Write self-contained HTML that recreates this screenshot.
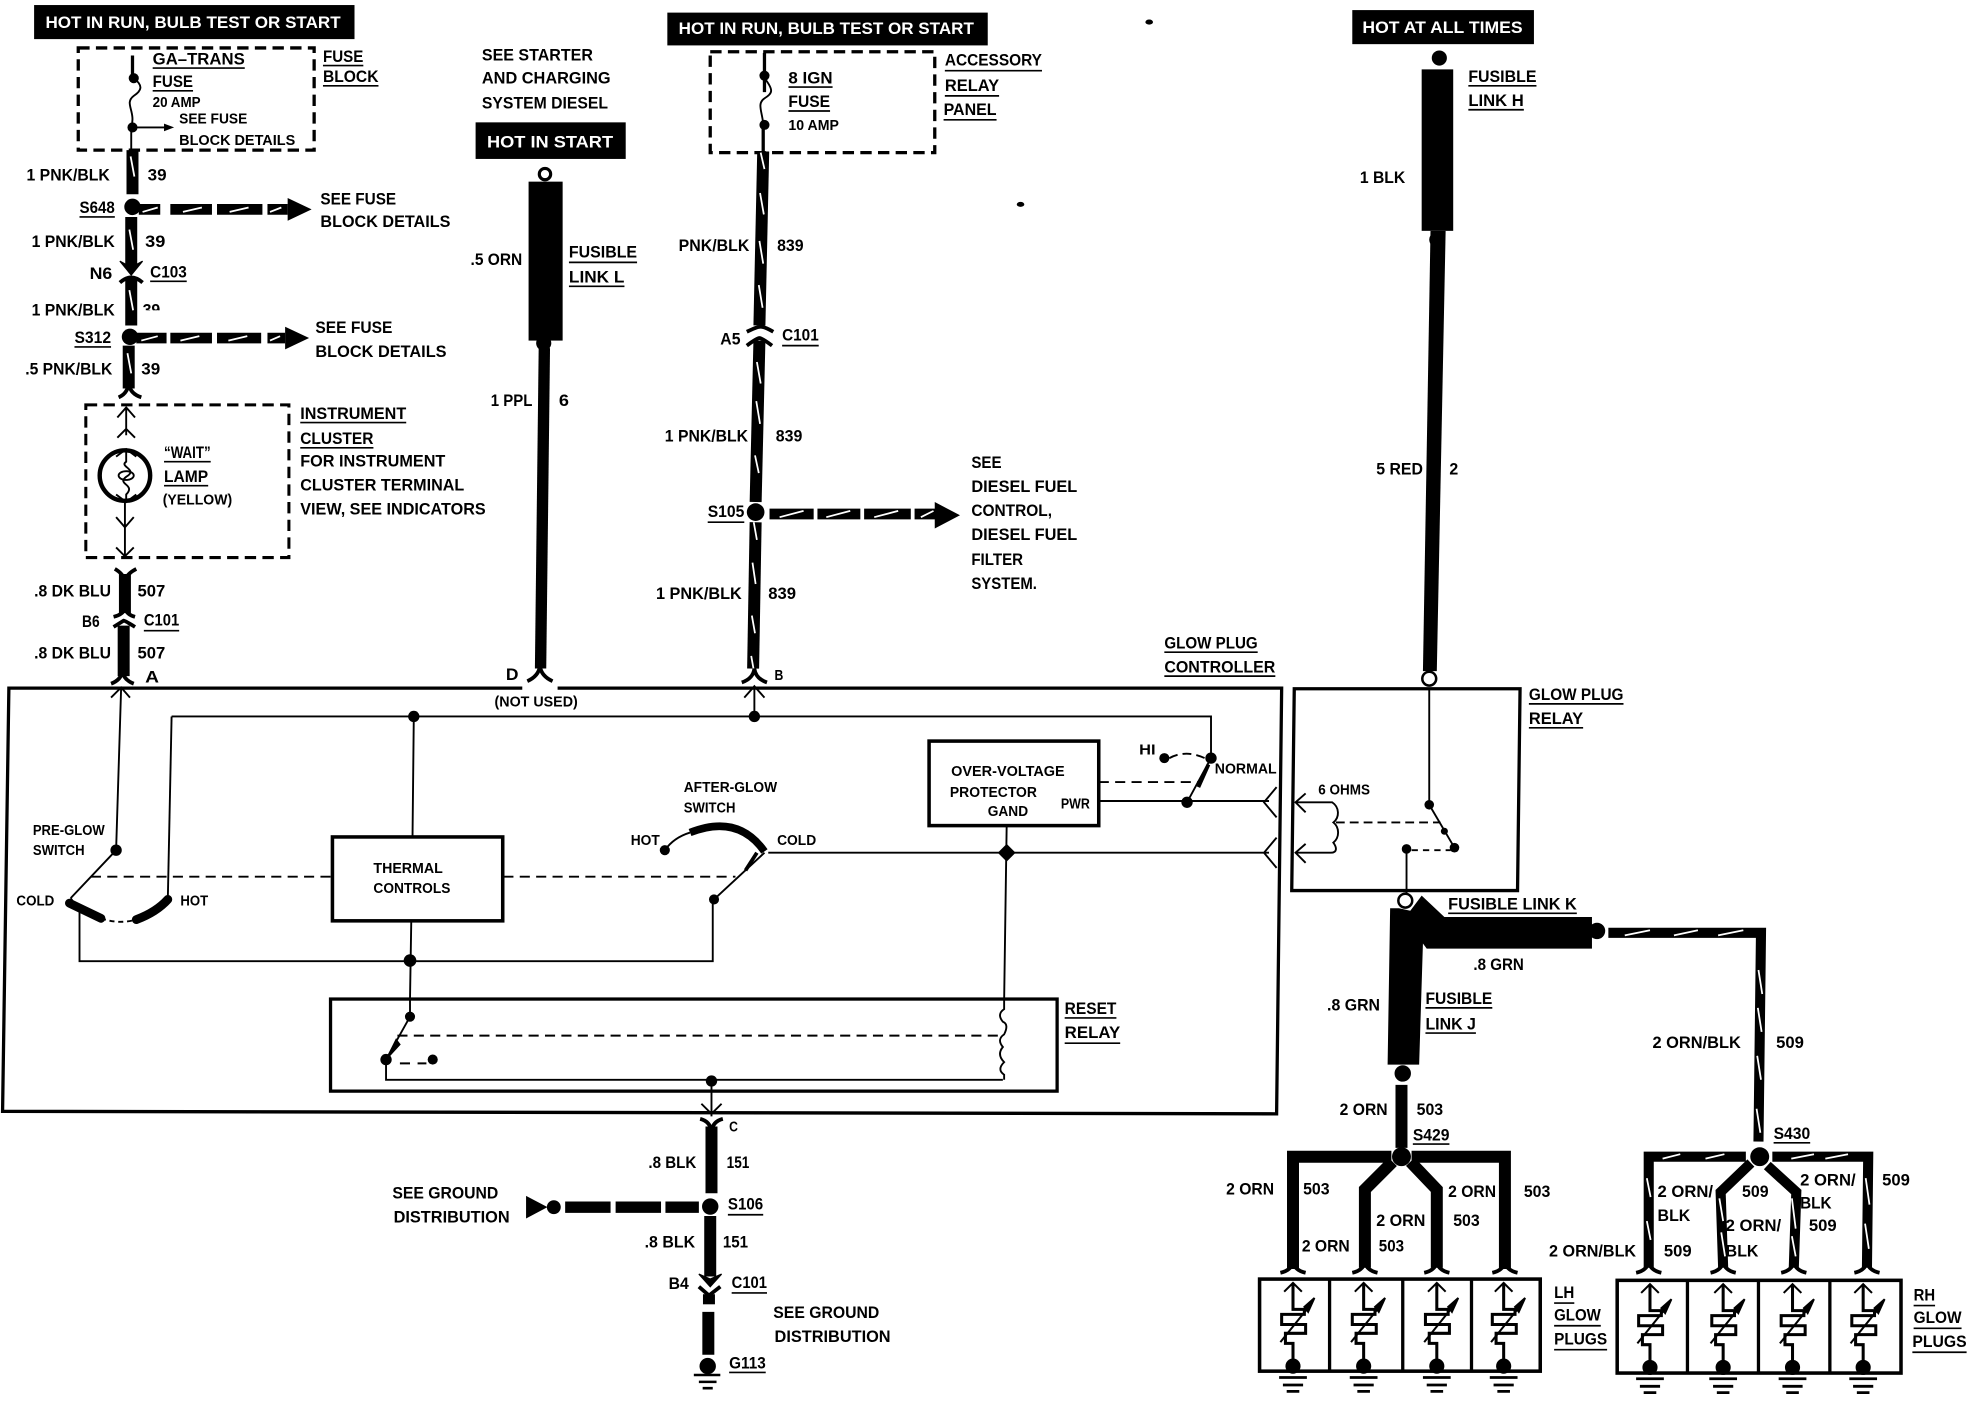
<!DOCTYPE html>
<html><head><meta charset="utf-8"><title>Glow Plug Wiring Diagram</title>
<style>
html,body{margin:0;padding:0;background:#fff}
svg{display:block}
text{font-family:"Liberation Sans",sans-serif;font-weight:bold;font-size:13.5px;fill:#000}
.s{font-size:11.5px}
.w{fill:#fff}
.u line{stroke:#000;stroke-width:1.3}
.th{fill:none;stroke:#000;stroke-width:1.5}
.m{fill:none;stroke:#000;stroke-width:2.6}
.d{fill:none;stroke:#000;stroke-width:1.5;stroke-dasharray:8 5}
.b{fill:none;stroke:#000;stroke-width:9.5}
.b7{fill:none;stroke:#000;stroke-width:8}
.sl{fill:none;stroke:#fff;stroke-width:1.4}
.f{fill:none;stroke:#000;stroke-width:3}
</style></head><body>
<svg xmlns="http://www.w3.org/2000/svg" xmlns:xlink="http://www.w3.org/1999/xlink" width="1978" height="1408" viewBox="0 0 1568 1116.2">
<defs>
<g id="plug">
<path d="M-7,10 L0,3 L7,10" fill="none" stroke="#000" stroke-width="1.6"/>
<path d="M0,3 V24 H9 V28 H-9 V36 H10 V43 H-6 V51 H0 V68" fill="none" stroke="#000" stroke-width="2.4"/>
<path d="M-10,50 L15,19" fill="none" stroke="#000" stroke-width="1.6"/>
<path d="M17,15 L9,22 L12,26 Z" fill="#000" stroke="#000" stroke-width="1.5"/>
<circle cx="0" cy="69" r="6"/>
<path d="M-11,78 H11 M-8,84 H8 M-5,89 H5" stroke="#000" stroke-width="2.2"/>
</g>
</defs>
<rect width="1568" height="1116.2" fill="#fff"/>

<!-- black header boxes -->
<rect x="27" y="4" width="254" height="27"/>
<rect x="529" y="10" width="254" height="26"/>
<rect x="377" y="97" width="119" height="29"/>
<rect x="1072" y="8" width="144" height="27"/>
<text class="w" x="36" y="22" textLength="234" lengthAdjust="spacingAndGlyphs">HOT IN RUN, BULB TEST OR START</text>
<text class="w" x="538" y="27" textLength="234" lengthAdjust="spacingAndGlyphs">HOT IN RUN, BULB TEST OR START</text>
<text class="w" x="386" y="117" textLength="100" lengthAdjust="spacingAndGlyphs">HOT IN START</text>
<text class="w" x="1080" y="26" textLength="127" lengthAdjust="spacingAndGlyphs">HOT AT ALL TIMES</text>

<!-- column 1 -->
<rect x="62" y="38" width="187" height="81" fill="none" stroke="#000" stroke-width="2.6" stroke-dasharray="9 5"/>
<path class="m" d="M105,44 V62"/>
<circle cx="106" cy="62" r="4"/><circle cx="105" cy="101" r="4"/>
<path class="th" d="M106,62 C114,68 112,72 106,76 C98,82 108,88 104,101 V119"/>
<path class="th" d="M105,101 H134"/><path d="M138,101 L130,98 V104 Z"/>
<path class="b" d="M105,119 V154"/><path class="sl" d="M103.500,124 L106.500,140"/>
<circle cx="105" cy="164" r="6.500"/>
<path stroke="#000" stroke-width="8.500" d="M110,166 H127 M135,166 H168 M172,166 H208 M212,166 H228"/>
<path class="sl" d="M113,168 L125,164.500 M145,168 L160,164.500 M182,168 L197,164.500 M214,168 L223,164.500"/>
<path d="M228,157 L247,166 L228,175 Z"/>
<path class="b" d="M104,172 V212"/><path class="sl" d="M102.500,182 L105.500,198"/>
<path d="M95,207 L104,212 L113,207 L104,218 Z" stroke="#000" stroke-width="1"/>
<path class="f" d="M95,224 Q104,216 113,224"/>
<path class="b" d="M104,221 V258"/><path class="sl" d="M102.500,230 L105.500,246"/>
<circle cx="103" cy="267" r="6.500"/>
<path stroke="#000" stroke-width="8.500" d="M108,268 H132 M135,268 H168 M172,268 H207 M212,268 H226"/>
<path class="sl" d="M112,270 L125,266.500 M143,270 L158,266.500 M181,270 L196,266.500 M214,270 L222,266.500"/>
<path d="M226,259 L245,268 L226,277 Z"/>
<path class="b" d="M102,274 V308"/><path class="sl" d="M101,280 L104,296"/>
<path class="f" d="M94,315 Q101,312 102,304 Q103,312 112,315"/>
<rect x="68" y="321" width="161" height="121" fill="none" stroke="#000" stroke-width="2.4" stroke-dasharray="9 5"/>
<path class="th" d="M93,331 L100,323 L107,331 M100,323 V340 M93,347 L100,340 L107,347 M100,340 V345"/>
<circle cx="99" cy="377" r="20" fill="#fff" stroke="#000" stroke-width="3.500"/>
<path class="th" d="M92,362 L100,356 L108,362 M100,356 V366 C94,370 110,372 100,378 C92,384 108,384 100,392 V396 M92,392 L100,398 L108,392"/>
<ellipse cx="100" cy="377" rx="6" ry="3.500" fill="none" stroke="#000" stroke-width="1.500"/>
<path class="th" d="M92,410 L99,418 L106,410 M99,398 V440 M92,434 L99,441 L106,434"/>
<path class="f" d="M91,451 Q98,455 99,461 Q100,455 108,451"/>
<path class="b" d="M99,455 V486"/>
<path class="f" d="M90,489 Q98,487 99,482 Q100,487 107,489"/>
<path class="f" d="M90,497 Q98,492 98,492 Q99,492 107,497"/>
<path class="b" d="M98,496 V536"/>
<path class="f" d="M88,542 Q96,539 97,532 Q98,539 106,542"/>

<!-- column 2 -->
<rect x="419" y="144" width="27" height="126"/>
<circle cx="432" cy="138" r="4.500" fill="#fff" stroke="#000" stroke-width="2.500"/>
<circle cx="431" cy="272" r="6"/>
<path d="M427,276 H436 L433,530 H424 Z"/>
<path class="f" d="M418,540 Q427,536 428,528 Q429,536 438,540"/>

<!-- column 3 -->
<rect x="563" y="41" width="178" height="80" fill="none" stroke="#000" stroke-width="2.600" stroke-dasharray="9 5"/>
<path class="m" d="M606,42 V73 M605,100 V120"/>
<circle cx="606" cy="60" r="4"/><circle cx="606" cy="99" r="4"/>
<path class="th" d="M606,62 C614,72 612,74 606,78 C600,82 604,88 605,98"/>
<path class="b" d="M605,120 L602,258"/>
<path class="sl" d="M603,121 L606,134 M602.500,153 L605.500,170 M602,191 L605,209 M601.500,226 L604.500,244"/>
<path class="f" d="M592,263 Q600,259 603,259 Q606,259 613,263"/>
<path class="f" d="M592,274 Q600,268 602,268 Q604,268 612,274"/>
<path class="b" d="M602,270 L599,398"/>
<path class="sl" d="M600,287 L603,304 M599.500,318 L602.500,336 M598.500,361 L601.500,375"/>
<circle cx="599" cy="406" r="7"/>
<path stroke="#000" stroke-width="8.500" d="M610,407.500 H645 M648,407.500 H682 M685,407.500 H722 M725,407.500 H743"/>
<path class="sl" d="M618,410 L637,405 M655,410 L674,405 M693,410 L712,405 M730,410 L740,405"/>
<path d="M741,398 L761,408.500 L741,419 Z"/>
<path class="b" d="M599,414 L597,530"/>
<path class="sl" d="M597.500,414 L600,428 M596.500,446 L599,463 M596,488 L598.500,502 M595.500,520 L598,534"/>
<path class="f" d="M588,541 Q597,538 598,530 Q599,538 608,541"/>

<!-- column 4 -->
<circle cx="1141" cy="46" r="6"/>
<rect x="1127" y="55" width="25" height="128"/>
<path d="M1134,183 H1146 L1139,532 H1128 Z"/><circle cx="1139" cy="190" r="6"/>
<circle cx="1133" cy="538" r="5.500" fill="#fff" stroke="#000" stroke-width="2"/>

<!-- controller -->
<path d="M414,545.500 H7 L2,881 L1012,883 L1016,545.500 H442" fill="none" stroke="#000" stroke-width="2.600"/>
<path class="th" d="M88,553 L96,545 L103,553 M96,545 L92,674"/>
<path class="th" d="M590,553 L598,544 L606,553 M598,544 V567"/>
<path class="th" d="M136,568 H960 V601"/>
<path class="th" d="M136,568 L133,713"/>
<circle cx="328" cy="568" r="4.500"/><circle cx="598" cy="568" r="4.500"/>
<path class="th" d="M328,568 L327,663 M326,730 L325,792 V806"/>
<circle cx="92" cy="674" r="4.500"/>
<path class="th" d="M92,674 L56,712 M56,712 L63,722 V762 H565 V713"/>
<path d="M55,716 L80,728" stroke="#000" stroke-width="7" stroke-linecap="round"/>
<path d="M108,729 Q124,723 133,713" fill="none" stroke="#000" stroke-width="7" stroke-linecap="round"/>
<path class="th" stroke-dasharray="4 3" d="M80,728 Q94,733 108,729"/>
<path class="d" d="M72,695 H263 M399,695 H583"/>
<rect x="263.500" y="663.500" width="135" height="66.500" fill="#fff" stroke="#000" stroke-width="2.800"/>
<circle cx="325" cy="761.500" r="5"/>
<rect x="262" y="792" width="576" height="73" fill="none" stroke="#000" stroke-width="2.600"/>
<circle cx="325" cy="806" r="4"/><path class="th" d="M325,806 L306,840 V856 H795"/>
<path d="M314,824 L306,840 L317,828 Z" stroke="#000"/>
<circle cx="306" cy="840" r="4.500"/><circle cx="343" cy="840" r="4"/>
<path class="th" stroke-dasharray="8 6" d="M317,843 H338"/>
<path class="d" d="M315,821 H793"/>
<circle cx="564" cy="857" r="4.500"/>
<path class="th" d="M564,857 V885 M556,875 L564,883 L572,875"/>
<path class="th" d="M798,655 L796,793 V800 Q790,804 795,810 Q800,812 796,820 Q790,824 795,830 Q790,836 796,842 Q790,848 796,852 V856"/>
<rect x="736.500" y="587.500" width="134.500" height="67" fill="#fff" stroke="#000" stroke-width="2.800"/>
<path class="th" d="M609,676 H1006 M1012,664 L1002,676 L1012,688 M871,635 H1006 M1012,624 L1002,636 L1012,648"/>
<path d="M798,670 L804,676 L798,682 L792,676 Z" stroke="#000" stroke-width="1.500"/>
<path class="th" d="M527,674 Q534,664 547,660"/><circle cx="527" cy="674" r="4"/>
<path d="M547,660 Q585,645 606,675" fill="none" stroke="#000" stroke-width="6"/>
<path class="th" d="M606,676 L566,713"/><path d="M600,676 L591,690" stroke="#000" stroke-width="3"/>
<circle cx="566" cy="713" r="4"/>
<circle cx="960" cy="601" r="4.500"/><circle cx="923" cy="601" r="4"/>
<circle cx="941" cy="636" r="4.500"/>
<path class="th" d="M960,601 L941,636"/><path d="M958,606 L950,624" stroke="#000" stroke-width="3"/>
<path class="th" stroke-dasharray="7 4" d="M927,601 Q940,594 955,601"/>
<path class="d" d="M871,620 H950"/>

<!-- glow plug relay -->
<path class="m" d="M1026,546 H1205 L1203,706 H1024 Z"/>
<path class="th" stroke-width="2" d="M1133,546 V638"/>
<circle cx="1133" cy="638" r="3.800"/><circle cx="1145" cy="659" r="2.800"/><circle cx="1153" cy="672" r="3.800"/><circle cx="1115" cy="673" r="3.800"/>
<path class="th" d="M1133,638 L1153,672"/>
<path class="th" stroke-dasharray="5 4" d="M1119,674 H1150"/>
<path class="th" d="M1115,673 V708"/>
<path class="th" d="M1035,629 L1027,636 L1035,644 M1027,636 H1056 C1062,640 1062,648 1057,652 C1062,656 1062,664 1057,668 C1060,672 1060,676 1055,676 H1027 M1035,669 L1027,676 L1035,684"/>
<path class="th" stroke-dasharray="7 4" d="M1059,652 H1142"/>
<circle cx="1114" cy="714" r="5.500" fill="#fff" stroke="#000" stroke-width="2"/>
<polygon points="1102,720 1109,720 1118,722 1127,710 1145,727 1262,727 1262,752 1131,752 1128,748 1125,844 1100,844"/>
<circle cx="1266" cy="738" r="6.500"/>
<path class="b7" d="M1275,739.500 H1396 L1394,905"/>
<path class="sl" d="M1288,741.500 L1308,737.500 M1327,741.500 L1346,737.500 M1362,741.500 L1382,737.500 M1394,769 L1397,788 M1393.500,799 L1396.500,818 M1393,837 L1396,856 M1392.500,879 L1395.500,898"/>
<circle cx="1112" cy="851" r="6.500"/>
<path class="b" d="M1111,860 V910"/>
<circle cx="1111" cy="917" r="7.500"/><circle cx="1395" cy="917" r="7.500"/>

<!-- LH branches -->
<path class="b" d="M1103,917 H1025 V1006 M1104,921 L1082,943 V1005 M1118,921 L1139,943 V1005 M1119,917 H1193 V1006"/>
<path class="f" d="M1015,1009 Q1024,1007 1025,1000 Q1026,1007 1035,1009 M1072,1009 Q1081,1007 1082,1000 Q1083,1007 1092,1009 M1129,1009 Q1138,1007 1139,1000 Q1140,1007 1149,1009 M1183,1009 Q1192,1007 1193,1000 Q1194,1007 1203,1009"/>
<rect x="998.500" y="1014" width="222.500" height="73" fill="none" stroke="#000" stroke-width="2.800"/>
<path class="m" d="M1054,1014 V1087 M1112,1014 V1087 M1166.500,1014 V1087"/>
<use xlink:href="#plug" x="1025" y="1014"/><use xlink:href="#plug" x="1081" y="1014"/><use xlink:href="#plug" x="1139" y="1014"/><use xlink:href="#plug" x="1192" y="1014"/>

<!-- RH branches -->
<path class="b7" d="M1384,917 H1307 V1005 M1388,922 L1364,945 L1366,1005 M1401,924 L1424,945 L1422,1005 M1405,917 H1481 L1480,1005"/>
<path class="sl" d="M1318,918.500 L1332,915 M1352,918.500 L1367,915 M1305.500,934 L1308.500,949 M1305.500,968 L1308.500,983 M1363,950 L1366,968 M1364.500,977 L1367.500,996 M1420.500,950 L1423.500,974 M1420.500,980 L1423.500,996 M1420,918.500 L1438,915 M1447,918.500 L1465,915 M1479,934 L1482,955 M1478.500,970 L1481.500,990"/>
<path class="f" d="M1297,1009 Q1306,1007 1307,1000 Q1308,1007 1317,1009 M1356,1009 Q1365,1007 1366,1000 Q1367,1007 1376,1009 M1412,1009 Q1421,1007 1422,1000 Q1423,1007 1432,1009 M1470,1009 Q1479,1007 1480,1000 Q1481,1007 1490,1009"/>
<rect x="1282" y="1015" width="225" height="73.500" fill="none" stroke="#000" stroke-width="2.800"/>
<path class="m" d="M1337.700,1015 V1088 M1394,1015 V1088 M1450.600,1015 V1088"/>
<use xlink:href="#plug" x="1308" y="1015"/><use xlink:href="#plug" x="1366" y="1015"/><use xlink:href="#plug" x="1421" y="1015"/><use xlink:href="#plug" x="1477" y="1015"/>

<!-- lower center -->
<path class="f" d="M555,887 Q563,889 564,897 Q565,889 573,887"/>
<path class="b" d="M564,893 V946 M563,964 V1012 M561.500,1040 V1074"/>
<circle cx="563" cy="956.500" r="6.500"/>
<path stroke="#000" stroke-width="9" d="M448,957 H484 M488,957 H524 M527.500,957 H554"/>
<circle cx="439" cy="957" r="5.500"/>
<path d="M417,948 L434,957 L417,966 Z"/>
<path d="M554,1010 L563,1014 L572,1010 L563,1020 Z" stroke="#000" stroke-width="1"/>
<path class="f" d="M554,1020 L562,1027 L571,1020"/>
<path class="b" d="M562,1026 V1034"/>
<circle cx="561" cy="1083" r="6.500"/>
<path d="M550,1090 H571 M554,1095.500 H568 M557,1100.500 H565" stroke="#000" stroke-width="2"/>

<!-- specks -->
<ellipse cx="911" cy="17.500" rx="3" ry="2"/><ellipse cx="809" cy="162" rx="3" ry="2"/>

<!-- text -->
<g>
<text x="121" y="51" textLength="73" lengthAdjust="spacingAndGlyphs">GA–TRANS</text>
<text x="121" y="69" textLength="32" lengthAdjust="spacingAndGlyphs">FUSE</text>
<text class="s" x="121" y="85" textLength="38" lengthAdjust="spacingAndGlyphs">20 AMP</text>
<text class="s" x="142" y="98" textLength="54" lengthAdjust="spacingAndGlyphs">SEE FUSE</text>
<text class="s" x="142" y="115" textLength="92" lengthAdjust="spacingAndGlyphs">BLOCK DETAILS</text>
<text x="256" y="49" textLength="32" lengthAdjust="spacingAndGlyphs">FUSE</text>
<text x="256" y="65" textLength="44" lengthAdjust="spacingAndGlyphs">BLOCK</text>
<text x="21" y="143" textLength="66" lengthAdjust="spacingAndGlyphs">1 PNK/BLK</text>
<text x="117" y="143" textLength="15" lengthAdjust="spacingAndGlyphs">39</text>
<text x="63" y="169" textLength="28" lengthAdjust="spacingAndGlyphs">S648</text>
<text x="25" y="196" textLength="66" lengthAdjust="spacingAndGlyphs">1 PNK/BLK</text>
<text x="115" y="196" textLength="16" lengthAdjust="spacingAndGlyphs">39</text>
<text x="71" y="221" textLength="18" lengthAdjust="spacingAndGlyphs">N6</text>
<text x="119" y="220" textLength="29" lengthAdjust="spacingAndGlyphs">C103</text>
<text x="25" y="250" textLength="66" lengthAdjust="spacingAndGlyphs">1 PNK/BLK</text>
<text x="113" y="250" textLength="14" lengthAdjust="spacingAndGlyphs">39</text>
<rect x="111" y="246" width="18" height="8" fill="#fff"/>
<text x="59" y="272" textLength="29" lengthAdjust="spacingAndGlyphs">S312</text>
<text x="20" y="297" textLength="69" lengthAdjust="spacingAndGlyphs">.5 PNK/BLK</text>
<text x="112" y="297" textLength="15" lengthAdjust="spacingAndGlyphs">39</text>
<text x="27" y="473" textLength="61" lengthAdjust="spacingAndGlyphs">.8 DK BLU</text>
<text x="109" y="473" textLength="22" lengthAdjust="spacingAndGlyphs">507</text>
<text x="65" y="497" textLength="14" lengthAdjust="spacingAndGlyphs">B6</text>
<text x="114" y="496" textLength="28" lengthAdjust="spacingAndGlyphs">C101</text>
<text x="27" y="522" textLength="61" lengthAdjust="spacingAndGlyphs">.8 DK BLU</text>
<text x="109" y="522" textLength="22" lengthAdjust="spacingAndGlyphs">507</text>
<text x="115" y="541" textLength="11" lengthAdjust="spacingAndGlyphs">A</text>
<text x="254" y="162" textLength="60" lengthAdjust="spacingAndGlyphs">SEE FUSE</text>
<text x="254" y="180" textLength="103" lengthAdjust="spacingAndGlyphs">BLOCK DETAILS</text>
<text x="250" y="264" textLength="61" lengthAdjust="spacingAndGlyphs">SEE FUSE</text>
<text x="250" y="283" textLength="104" lengthAdjust="spacingAndGlyphs">BLOCK DETAILS</text>
<text x="238" y="332" textLength="84" lengthAdjust="spacingAndGlyphs">INSTRUMENT</text>
<text x="238" y="352" textLength="58" lengthAdjust="spacingAndGlyphs">CLUSTER</text>
<text x="238" y="370" textLength="115" lengthAdjust="spacingAndGlyphs">FOR INSTRUMENT</text>
<text x="238" y="389" textLength="130" lengthAdjust="spacingAndGlyphs">CLUSTER TERMINAL</text>
<text x="238" y="408" textLength="147" lengthAdjust="spacingAndGlyphs">VIEW, SEE INDICATORS</text>
<text x="130" y="363" textLength="37" lengthAdjust="spacingAndGlyphs">“WAIT”</text>
<text x="130" y="382" textLength="35" lengthAdjust="spacingAndGlyphs">LAMP</text>
<text class="s" x="129" y="400" textLength="55" lengthAdjust="spacingAndGlyphs">(YELLOW)</text>
<text x="382" y="48" textLength="88" lengthAdjust="spacingAndGlyphs">SEE STARTER</text>
<text x="382" y="66" textLength="102" lengthAdjust="spacingAndGlyphs">AND CHARGING</text>
<text x="382" y="86" textLength="100" lengthAdjust="spacingAndGlyphs">SYSTEM DIESEL</text>
<text x="373" y="210" textLength="41" lengthAdjust="spacingAndGlyphs">.5 ORN</text>
<text x="451" y="204" textLength="54" lengthAdjust="spacingAndGlyphs">FUSIBLE</text>
<text x="451" y="224" textLength="44" lengthAdjust="spacingAndGlyphs">LINK L</text>
<text x="389" y="322" textLength="33" lengthAdjust="spacingAndGlyphs">1 PPL</text>
<text x="443" y="322" textLength="8" lengthAdjust="spacingAndGlyphs">6</text>
<text x="401" y="539" textLength="10" lengthAdjust="spacingAndGlyphs">D</text>
<text class="s" x="392" y="560" textLength="66" lengthAdjust="spacingAndGlyphs">(NOT USED)</text>
<text x="625" y="66" textLength="35" lengthAdjust="spacingAndGlyphs">8 IGN</text>
<text x="625" y="85" textLength="33" lengthAdjust="spacingAndGlyphs">FUSE</text>
<text class="s" x="625" y="103" textLength="40" lengthAdjust="spacingAndGlyphs">10 AMP</text>
<text x="749" y="52" textLength="77" lengthAdjust="spacingAndGlyphs">ACCESSORY</text>
<text x="749" y="72" textLength="43" lengthAdjust="spacingAndGlyphs">RELAY</text>
<text x="748" y="91" textLength="42" lengthAdjust="spacingAndGlyphs">PANEL</text>
<text x="538" y="199" textLength="56" lengthAdjust="spacingAndGlyphs">PNK/BLK</text>
<text x="616" y="199" textLength="21" lengthAdjust="spacingAndGlyphs">839</text>
<text x="571" y="273" textLength="16" lengthAdjust="spacingAndGlyphs">A5</text>
<text x="620" y="270" textLength="29" lengthAdjust="spacingAndGlyphs">C101</text>
<text x="527" y="350" textLength="66" lengthAdjust="spacingAndGlyphs">1 PNK/BLK</text>
<text x="615" y="350" textLength="21" lengthAdjust="spacingAndGlyphs">839</text>
<text x="561" y="410" textLength="29" lengthAdjust="spacingAndGlyphs">S105</text>
<text x="520" y="475" textLength="68" lengthAdjust="spacingAndGlyphs">1 PNK/BLK</text>
<text x="609" y="475" textLength="22" lengthAdjust="spacingAndGlyphs">839</text>
<text class="s" x="614" y="539" textLength="7" lengthAdjust="spacingAndGlyphs">B</text>
<text x="770" y="371" textLength="24" lengthAdjust="spacingAndGlyphs">SEE</text>
<text x="770" y="390" textLength="84" lengthAdjust="spacingAndGlyphs">DIESEL FUEL</text>
<text x="770" y="409" textLength="64" lengthAdjust="spacingAndGlyphs">CONTROL,</text>
<text x="770" y="428" textLength="84" lengthAdjust="spacingAndGlyphs">DIESEL FUEL</text>
<text x="770" y="448" textLength="41" lengthAdjust="spacingAndGlyphs">FILTER</text>
<text x="770" y="467" textLength="52" lengthAdjust="spacingAndGlyphs">SYSTEM.</text>
<text x="923" y="514" textLength="74" lengthAdjust="spacingAndGlyphs">GLOW PLUG</text>
<text x="923" y="533" textLength="88" lengthAdjust="spacingAndGlyphs">CONTROLLER</text>
<text x="1164" y="65" textLength="54" lengthAdjust="spacingAndGlyphs">FUSIBLE</text>
<text x="1164" y="84" textLength="44" lengthAdjust="spacingAndGlyphs">LINK H</text>
<text x="1078" y="145" textLength="36" lengthAdjust="spacingAndGlyphs">1 BLK</text>
<text x="1091" y="376" textLength="37" lengthAdjust="spacingAndGlyphs">5 RED</text>
<text x="1149" y="376" textLength="7" lengthAdjust="spacingAndGlyphs">2</text>
<text x="1212" y="555" textLength="75" lengthAdjust="spacingAndGlyphs">GLOW PLUG</text>
<text x="1212" y="574" textLength="43" lengthAdjust="spacingAndGlyphs">RELAY</text>
<text x="1148" y="721" textLength="102" lengthAdjust="spacingAndGlyphs">FUSIBLE LINK K</text>
<text x="1168" y="769" textLength="40" lengthAdjust="spacingAndGlyphs">.8 GRN</text>
<text x="1052" y="801" textLength="42" lengthAdjust="spacingAndGlyphs">.8 GRN</text>
<text x="1130" y="796" textLength="53" lengthAdjust="spacingAndGlyphs">FUSIBLE</text>
<text x="1130" y="816" textLength="40" lengthAdjust="spacingAndGlyphs">LINK J</text>
<text x="1310" y="831" textLength="70" lengthAdjust="spacingAndGlyphs">2 ORN/BLK</text>
<text x="1408" y="831" textLength="22" lengthAdjust="spacingAndGlyphs">509</text>
<text x="1062" y="884" textLength="38" lengthAdjust="spacingAndGlyphs">2 ORN</text>
<text x="1123" y="884" textLength="21" lengthAdjust="spacingAndGlyphs">503</text>
<text x="1120" y="904" textLength="29" lengthAdjust="spacingAndGlyphs">S429</text>
<text x="1406" y="903" textLength="29" lengthAdjust="spacingAndGlyphs">S430</text>
<text x="972" y="947" textLength="38" lengthAdjust="spacingAndGlyphs">2 ORN</text>
<text x="1033" y="947" textLength="21" lengthAdjust="spacingAndGlyphs">503</text>
<text x="1032" y="992" textLength="38" lengthAdjust="spacingAndGlyphs">2 ORN</text>
<text x="1093" y="992" textLength="20" lengthAdjust="spacingAndGlyphs">503</text>
<text x="1091" y="972" textLength="39" lengthAdjust="spacingAndGlyphs">2 ORN</text>
<text x="1152" y="972" textLength="21" lengthAdjust="spacingAndGlyphs">503</text>
<text x="1148" y="949" textLength="38" lengthAdjust="spacingAndGlyphs">2 ORN</text>
<text x="1208" y="949" textLength="21" lengthAdjust="spacingAndGlyphs">503</text>
<text x="1228" y="996" textLength="69" lengthAdjust="spacingAndGlyphs">2 ORN/BLK</text>
<text x="1319" y="996" textLength="22" lengthAdjust="spacingAndGlyphs">509</text>
<text x="1314" y="949" textLength="44" lengthAdjust="spacingAndGlyphs">2 ORN/</text>
<text x="1314" y="968" textLength="26" lengthAdjust="spacingAndGlyphs">BLK</text>
<text x="1381" y="949" textLength="21" lengthAdjust="spacingAndGlyphs">509</text>
<text x="1368" y="976" textLength="44" lengthAdjust="spacingAndGlyphs">2 ORN/</text>
<text x="1368" y="996" textLength="26" lengthAdjust="spacingAndGlyphs">BLK</text>
<text x="1434" y="976" textLength="22" lengthAdjust="spacingAndGlyphs">509</text>
<text x="1427" y="940" textLength="44" lengthAdjust="spacingAndGlyphs">2 ORN/</text>
<text x="1427" y="958" textLength="25" lengthAdjust="spacingAndGlyphs">BLK</text>
<text x="1492" y="940" textLength="22" lengthAdjust="spacingAndGlyphs">509</text>
<text x="1232" y="1029" textLength="16" lengthAdjust="spacingAndGlyphs">LH</text>
<text x="1232" y="1047" textLength="37" lengthAdjust="spacingAndGlyphs">GLOW</text>
<text x="1232" y="1066" textLength="42" lengthAdjust="spacingAndGlyphs">PLUGS</text>
<text x="1517" y="1031" textLength="17" lengthAdjust="spacingAndGlyphs">RH</text>
<text x="1517" y="1049" textLength="38" lengthAdjust="spacingAndGlyphs">GLOW</text>
<text x="1516" y="1068" textLength="43" lengthAdjust="spacingAndGlyphs">PLUGS</text>
<text x="844" y="804" textLength="41" lengthAdjust="spacingAndGlyphs">RESET</text>
<text x="844" y="823" textLength="44" lengthAdjust="spacingAndGlyphs">RELAY</text>
<text class="s" x="296" y="692" textLength="55" lengthAdjust="spacingAndGlyphs">THERMAL</text>
<text class="s" x="296" y="708" textLength="61" lengthAdjust="spacingAndGlyphs">CONTROLS</text>
<text class="s" x="754" y="615" textLength="90" lengthAdjust="spacingAndGlyphs">OVER-VOLTAGE</text>
<text class="s" x="753" y="632" textLength="69" lengthAdjust="spacingAndGlyphs">PROTECTOR</text>
<text class="s" x="783" y="647" textLength="32" lengthAdjust="spacingAndGlyphs">GAND</text>
<text class="s" x="841" y="641" textLength="23" lengthAdjust="spacingAndGlyphs">PWR</text>
<text class="s" x="903" y="598" textLength="13" lengthAdjust="spacingAndGlyphs">HI</text>
<text class="s" x="963" y="613" textLength="49" lengthAdjust="spacingAndGlyphs">NORMAL</text>
<text class="s" x="500" y="670" textLength="23" lengthAdjust="spacingAndGlyphs">HOT</text>
<text class="s" x="616" y="670" textLength="31" lengthAdjust="spacingAndGlyphs">COLD</text>
<text class="s" x="542" y="628" textLength="74" lengthAdjust="spacingAndGlyphs">AFTER-GLOW</text>
<text class="s" x="542" y="644" textLength="41" lengthAdjust="spacingAndGlyphs">SWITCH</text>
<text class="s" x="26" y="662" textLength="57" lengthAdjust="spacingAndGlyphs">PRE-GLOW</text>
<text class="s" x="26" y="678" textLength="41" lengthAdjust="spacingAndGlyphs">SWITCH</text>
<text class="s" x="13" y="718" textLength="30" lengthAdjust="spacingAndGlyphs">COLD</text>
<text class="s" x="143" y="718" textLength="22" lengthAdjust="spacingAndGlyphs">HOT</text>
<text class="s" x="1045" y="630" textLength="41" lengthAdjust="spacingAndGlyphs">6 OHMS</text>
<text class="s" x="578" y="897" textLength="7" lengthAdjust="spacingAndGlyphs">C</text>
<text x="514" y="926" textLength="38" lengthAdjust="spacingAndGlyphs">.8 BLK</text>
<text x="576" y="926" textLength="18" lengthAdjust="spacingAndGlyphs">151</text>
<text x="577" y="959" textLength="28" lengthAdjust="spacingAndGlyphs">S106</text>
<text x="511" y="989" textLength="40" lengthAdjust="spacingAndGlyphs">.8 BLK</text>
<text x="573" y="989" textLength="20" lengthAdjust="spacingAndGlyphs">151</text>
<text x="530" y="1022" textLength="16" lengthAdjust="spacingAndGlyphs">B4</text>
<text x="580" y="1021" textLength="28" lengthAdjust="spacingAndGlyphs">C101</text>
<text x="613" y="1045" textLength="84" lengthAdjust="spacingAndGlyphs">SEE GROUND</text>
<text x="614" y="1064" textLength="92" lengthAdjust="spacingAndGlyphs">DISTRIBUTION</text>
<text x="578" y="1085" textLength="29" lengthAdjust="spacingAndGlyphs">G113</text>
<text x="311" y="950" textLength="84" lengthAdjust="spacingAndGlyphs">SEE GROUND</text>
<text x="312" y="969" textLength="92" lengthAdjust="spacingAndGlyphs">DISTRIBUTION</text>
</g>

<!-- underlines -->
<g class="u">
<line x1="121" y1="54" x2="194" y2="54"/><line x1="121" y1="72" x2="153" y2="72"/>
<line x1="256" y1="52" x2="288" y2="52"/><line x1="256" y1="68" x2="300" y2="68"/>
<line x1="63" y1="172" x2="91" y2="172"/><line x1="119" y1="223" x2="148" y2="223"/>
<line x1="59" y1="275" x2="88" y2="275"/><line x1="114" y1="500" x2="142" y2="500"/>
<line x1="238" y1="335" x2="322" y2="335"/><line x1="238" y1="355" x2="296" y2="355"/>
<line x1="130" y1="366" x2="167" y2="366"/><line x1="130" y1="385" x2="165" y2="385"/>
<line x1="451" y1="208" x2="505" y2="208"/><line x1="451" y1="227" x2="495" y2="227"/>
<line x1="625" y1="69" x2="660" y2="69"/><line x1="625" y1="88" x2="658" y2="88"/>
<line x1="749" y1="56" x2="826" y2="56"/><line x1="749" y1="76" x2="792" y2="76"/><line x1="748" y1="95" x2="790" y2="95"/>
<line x1="620" y1="274" x2="649" y2="274"/><line x1="561" y1="414" x2="590" y2="414"/>
<line x1="923" y1="517" x2="997" y2="517"/><line x1="923" y1="536" x2="1011" y2="536"/>
<line x1="1164" y1="68" x2="1218" y2="68"/><line x1="1164" y1="87" x2="1208" y2="87"/>
<line x1="1212" y1="558" x2="1287" y2="558"/><line x1="1212" y1="577" x2="1255" y2="577"/>
<line x1="1148" y1="724" x2="1250" y2="724"/><line x1="1130" y1="799" x2="1183" y2="799"/><line x1="1130" y1="819" x2="1170" y2="819"/>
<line x1="1120" y1="907" x2="1149" y2="907"/><line x1="1406" y1="906" x2="1435" y2="906"/>
<line x1="1232" y1="1033" x2="1248" y2="1033"/><line x1="1232" y1="1051" x2="1269" y2="1051"/><line x1="1232" y1="1070" x2="1274" y2="1070"/>
<line x1="1517" y1="1035" x2="1534" y2="1035"/><line x1="1517" y1="1053" x2="1555" y2="1053"/><line x1="1516" y1="1072" x2="1559" y2="1072"/>
<line x1="844" y1="807" x2="885" y2="807"/><line x1="844" y1="827" x2="888" y2="827"/>
<line x1="577" y1="963" x2="605" y2="963"/><line x1="580" y1="1025" x2="608" y2="1025"/><line x1="578" y1="1088" x2="607" y2="1088"/>
</g>
</svg>
</body></html>
